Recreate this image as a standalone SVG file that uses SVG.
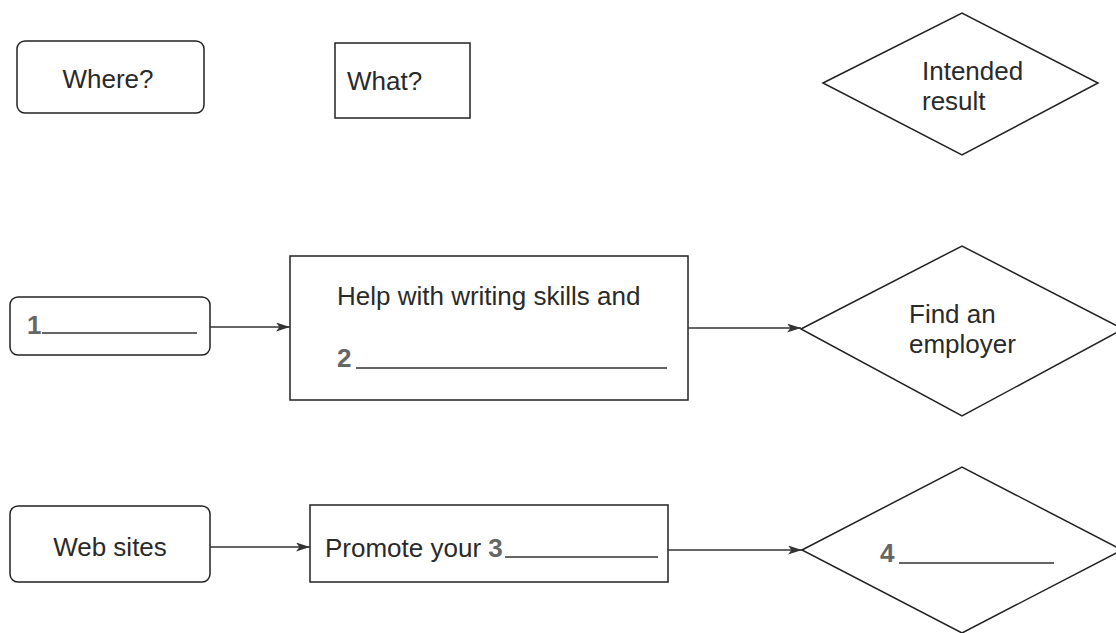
<svg xmlns="http://www.w3.org/2000/svg" width="1116" height="633" viewBox="0 0 1116 633">
<defs>
<style>
.box{fill:#fff;stroke:#222;stroke-width:1.5}
.t{font-family:"Liberation Sans",Arial,sans-serif;font-size:26px;fill:#2a2a2a}
.n{font-family:"Liberation Sans",Arial,sans-serif;font-size:26px;font-weight:bold;fill:#666}
.blank{stroke:#333;stroke-width:1.5}
.conn{stroke:#333;stroke-width:1.5;fill:none;marker-end:url(#ah)}
</style>
<marker id="ah" viewBox="0 0 14 9" refX="14" refY="4.5" markerWidth="14" markerHeight="9" markerUnits="userSpaceOnUse" orient="auto">
<path d="M0,0 L14,4.5 L0,9 L3.5,4.5 Z" fill="#333"/>
</marker>
</defs>
<rect width="1116" height="633" fill="#fff"/>
<g id="where">
<rect class="box" x="17" y="41" width="187" height="72" rx="8"/>
<text class="t" x="108" y="88" text-anchor="middle">Where?</text>
</g>
<g id="what">
<rect class="box" x="335" y="43" width="135" height="75"/>
<text class="t" x="347" y="90">What?</text>
</g>
<g id="intended">
<polygon class="box" points="823,83 962,13 1098,83 962,155"/>
<text class="t" x="922" y="80">Intended</text>
<text class="t" x="922" y="110">result</text>
</g>
<g id="blank1">
<rect class="box" x="10" y="297" width="200" height="58" rx="8"/>
<text class="n" x="27" y="334">1</text>
<line class="blank" x1="42" y1="333" x2="197" y2="333"/>
</g>
<g id="help">
<rect class="box" x="290" y="256" width="398" height="144"/>
<text class="t" x="337" y="305">Help with writing skills and</text>
<text class="n" x="337" y="367">2</text>
<line class="blank" x1="356" y1="368" x2="667" y2="368"/>
</g>
<g id="employer">
<polygon class="box" points="801,329 962,246 1123,329 962,416"/>
<text class="t" x="909" y="323">Find an</text>
<text class="t" x="909" y="353">employer</text>
</g>
<g id="websites">
<rect class="box" x="10" y="506" width="200" height="76" rx="8"/>
<text class="t" x="110" y="556" text-anchor="middle">Web sites</text>
</g>
<g id="promote">
<rect class="box" x="310" y="505" width="358" height="77"/>
<text class="t" x="325" y="557">Promote your <tspan class="n">3</tspan></text>
<line class="blank" x1="505" y1="557" x2="658" y2="557"/>
</g>
<g id="blank4">
<polygon class="box" points="802,550 962,467 1122,550 962,633"/>
<text class="n" x="880" y="562">4</text>
<line class="blank" x1="899" y1="563" x2="1054" y2="563"/>
</g>
<g id="connectors">
<line class="conn" x1="210" y1="327" x2="290" y2="327"/>
<line class="conn" x1="688" y1="328" x2="801" y2="328"/>
<line class="conn" x1="210" y1="547" x2="310" y2="547"/>
<line class="conn" x1="668" y1="550" x2="802" y2="550"/>
</g>
</svg>
